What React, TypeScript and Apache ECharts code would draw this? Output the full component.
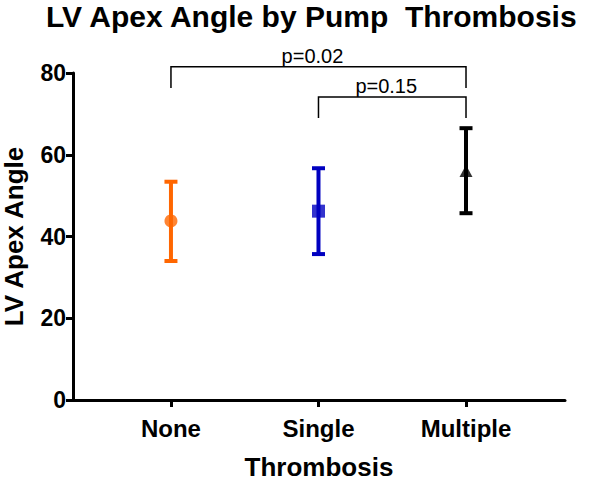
import React, { useEffect, useRef } from "react";
import * as echarts from "echarts";

const categories = ["None", "Single", "Multiple"];
const means = [43.8, 46.2, 56.0];
const lowerBounds = [34.0, 35.7, 45.7];
const upperBounds = [53.4, 56.7, 66.5];
const groupColors = ["#FF6600", "#0000C0", "#000000"];
const groupSymbols = ["circle", "rect", "triangle"];

const yTicks = [0, 20, 40, 60, 80];

const bracketStart = [0, 1];
const bracketEnd = [2, 2];
const bracketTop = [81.5, 74.1];
const bracketBottom = [76.3, 69.0];
const pLabels = ["p=0.02", "p=0.15"];

const FONT = "'Liberation Sans', Arial, Helvetica, sans-serif";

export default function App() {
  const ref = useRef<HTMLDivElement>(null);

  useEffect(() => {
    document.body.style.margin = "0";
    const chart = echarts.init(ref.current!, null, { renderer: "svg" });

    const errorData = categories.map((_, i) => [i, lowerBounds[i], upperBounds[i]]);
    const markerData = categories.map((_, i) => ({
      value: [i, means[i]],
      symbol: groupSymbols[i],
      symbolSize: groupSymbols[i] === "triangle" ? [13, 12] : 13,
      itemStyle: { color: groupColors[i] },
    }));
    const bracketData = pLabels.map((_, i) => [
      bracketStart[i],
      bracketEnd[i],
      bracketTop[i],
      bracketBottom[i],
      i,
    ]);

    const option: any = {
      animation: false,
      backgroundColor: "#ffffff",
      title: {
        text: "LV Apex Angle by Pump  Thrombosis",
        left: 46,
        top: 1,
        padding: 0,
        textStyle: {
          fontFamily: FONT,
          fontWeight: "bold",
          fontSize: 30,
          color: "#000",
        },
      },
      grid: {
        left: 73,
        right: 35,
        top: 73,
        bottom: 83,
        containLabel: false,
        outerBoundsMode: "none",
      },
      xAxis: {
        type: "value",
        min: -0.664,
        max: 2.671,
        name: "Thrombosis",
        nameLocation: "middle",
        nameGap: 54,
        nameTextStyle: { fontFamily: FONT, fontWeight: "bold", fontSize: 26, color: "#000" },
        splitLine: { show: false },
        axisLine: { show: true, onZero: false, lineStyle: { color: "#000", width: 3 } },
        axisTick: {
          show: true,
          customValues: [0, 1, 2],
          length: 7,
          lineStyle: { color: "#000", width: 3 },
        },
        axisLabel: {
          show: true,
          customValues: [0, 1, 2],
          margin: 16,
          fontFamily: FONT,
          fontWeight: "bold",
          fontSize: 24,
          color: "#000",
          formatter: (v: number) => categories[Math.round(v)] ?? "",
        },
      },
      yAxis: {
        type: "value",
        min: 0,
        max: 80,
        interval: 20,
        name: "LV Apex Angle",
        nameLocation: "middle",
        nameGap: 46,
        nameTextStyle: { fontFamily: FONT, fontWeight: "bold", fontSize: 26, color: "#000" },
        splitLine: { show: false },
        axisLine: { show: true, onZero: false, lineStyle: { color: "#000", width: 3 } },
        axisTick: { show: true, length: 7, lineStyle: { color: "#000", width: 3 } },
        axisLabel: {
          margin: 7,
          fontFamily: FONT,
          fontWeight: "bold",
          fontSize: 23,
          color: "#000",
          formatter: (v: number) => (yTicks.includes(v) ? String(v) : ""),
        },
      },
      series: [
        {
          type: "custom",
          name: "errorbars",
          data: errorData,
          clip: false,
          renderItem: (params: any, api: any) => {
            const x = api.value(0);
            const lo = api.coord([x, api.value(1)]);
            const hi = api.coord([x, api.value(2)]);
            const color = groupColors[params.dataIndex];
            const half = 6.5;
            const style = { stroke: color, lineWidth: 4, fill: "none" };
            return {
              type: "group",
              children: [
                { type: "line", shape: { x1: lo[0], y1: lo[1], x2: hi[0], y2: hi[1] }, style },
                { type: "line", shape: { x1: lo[0] - half, y1: lo[1], x2: lo[0] + half, y2: lo[1] }, style },
                { type: "line", shape: { x1: hi[0] - half, y1: hi[1], x2: hi[0] + half, y2: hi[1] }, style },
              ],
            };
          },
          z: 2,
        },
        {
          type: "scatter",
          name: "means",
          data: markerData,
          z: 3,
        },
        {
          type: "custom",
          name: "brackets",
          data: bracketData,
          clip: false,
          renderItem: (params: any, api: any) => {
            const x1 = api.value(0);
            const x2 = api.value(1);
            const top = api.value(2);
            const bottom = api.value(3);
            const idx = api.value(4);
            const pA = api.coord([x1, bottom]);
            const pB = api.coord([x1, top]);
            const pC = api.coord([x2, top]);
            const pD = api.coord([x2, bottom]);
            return {
              type: "group",
              children: [
                {
                  type: "polyline",
                  shape: { points: [pA, pB, pC, pD] },
                  style: { stroke: "#000", lineWidth: 1.5, fill: "none" },
                },
                {
                  type: "text",
                  x: (pB[0] + pC[0]) / 2 - 6,
                  y: pB[1] - 1,
                  style: {
                    text: pLabels[idx],
                    fontFamily: FONT,
                    fontSize: 20,
                    fill: "#000",
                    align: "center",
                    verticalAlign: "bottom",
                  },
                },
              ],
            };
          },
          z: 4,
        },
      ],
    };

    chart.setOption(option);
    return () => chart.dispose();
  }, []);

  return <div ref={ref} style={{ width: 600, height: 483 }} />;
}
